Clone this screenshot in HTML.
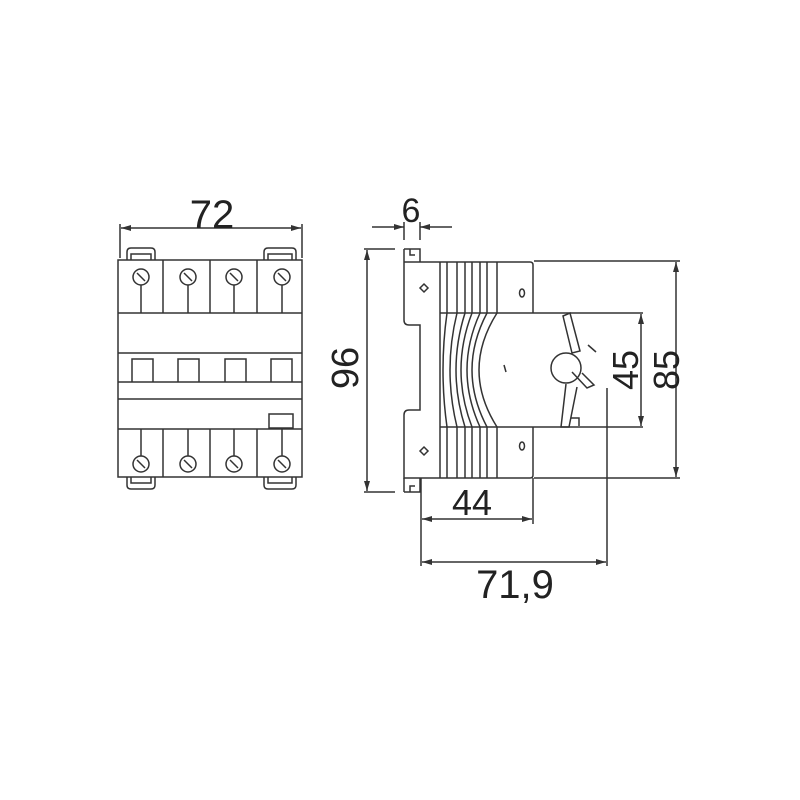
<!DOCTYPE html>
<html><head><meta charset="utf-8"><style>html,body{margin:0;padding:0;background:#fff}svg{display:block}</style></head>
<body>
<svg width="800" height="800" viewBox="0 0 800 800" xmlns="http://www.w3.org/2000/svg" font-family="Liberation Sans, sans-serif">
<defs>
<marker id="a" viewBox="0 0 10 6" refX="10" refY="3" markerWidth="10" markerHeight="6" orient="auto-start-reverse" markerUnits="userSpaceOnUse"><path d="M0,0 L10,3 L0,6 z" fill="#333"/></marker>
</defs>
<g stroke="#333" stroke-width="1.5" fill="none">
<!-- LEFT VIEW -->
<line x1="120" y1="224" x2="120" y2="258"/><line x1="302" y1="224" x2="302" y2="258"/>
<line x1="121" y1="228" x2="301" y2="228" marker-start="url(#a)" marker-end="url(#a)"/>
<rect x="118" y="260" width="184" height="217"/>
<path d="M127,260 v-8 q0,-4 4,-4 h20 q4,0 4,4 v8 M131,260 v-6 h20 v6"/>
<path d="M264,260 v-8 q0,-4 4,-4 h24 q4,0 4,4 v8 M268,260 v-6 h24 v6"/>
<path d="M127,477 v8 q0,4 4,4 h20 q4,0 4,-4 v-8 M131,477 v6 h20 v-6"/>
<path d="M264,477 v8 q0,4 4,4 h24 q4,0 4,-4 v-8 M268,477 v6 h24 v-6"/>
<line x1="118" y1="313" x2="302" y2="313"/><line x1="118" y1="353" x2="302" y2="353"/>
<line x1="118" y1="382" x2="302" y2="382"/><line x1="118" y1="399" x2="302" y2="399"/>
<line x1="118" y1="429" x2="302" y2="429"/>
<line x1="163" y1="260" x2="163" y2="313"/><line x1="210" y1="260" x2="210" y2="313"/><line x1="257" y1="260" x2="257" y2="313"/>
<line x1="163" y1="429" x2="163" y2="477"/><line x1="210" y1="429" x2="210" y2="477"/><line x1="257" y1="429" x2="257" y2="477"/>
<g>
<circle cx="141" cy="277" r="8"/><circle cx="188" cy="277" r="8"/><circle cx="234" cy="277" r="8"/><circle cx="282" cy="277" r="8"/>
<circle cx="141" cy="464" r="8"/><circle cx="188" cy="464" r="8"/><circle cx="234" cy="464" r="8"/><circle cx="282" cy="464" r="8"/>
<path d="M137,273 l8,8 M184,273 l8,8 M230,273 l8,8 M278,273 l8,8 M137,460 l8,8 M184,460 l8,8 M230,460 l8,8 M278,460 l8,8"/>
<path d="M141,285 v28 M188,285 v28 M234,285 v28 M282,285 v28 M141,456 v-27 M188,456 v-27 M234,456 v-27 M282,456 v-27"/>
</g>
<path d="M132,382 v-23 h21 v23 M178,382 v-23 h21 v23 M225,382 v-23 h21 v23 M271,382 v-23 h21 v23"/>
<rect x="269" y="414" width="24" height="14"/>
<!-- RIGHT VIEW -->
<line x1="372" y1="227" x2="404" y2="227" marker-end="url(#a)"/>
<line x1="452" y1="227" x2="420" y2="227" marker-end="url(#a)"/>
<line x1="404" y1="222" x2="404" y2="240"/><line x1="420" y1="222" x2="420" y2="240"/>
<line x1="367" y1="250" x2="367" y2="491" marker-start="url(#a)" marker-end="url(#a)"/>
<line x1="364" y1="249" x2="395" y2="249"/><line x1="364" y1="492" x2="395" y2="492"/>
<path d="M404,249 h16 v13 M404,249 v13 M410,249 v6 h5 M404,492 h16 v-14 M404,492 v-14 M410,492 v-6 h5"/>
<path d="M404,262 h36 M404,262 v58 q0,5 5,5 h11 v85 h-11 q-5,0 -5,5 v63 h36"/>
<path d="M424,284 l4,4 l-4,4 l-4,-4 z M424,447 l4,4 l-4,4 l-4,-4 z"/>
<line x1="440" y1="262" x2="440" y2="478"/>
<line x1="497" y1="262" x2="497" y2="313"/><line x1="497" y1="427" x2="497" y2="478"/>
<path d="M447,262 v51 M457,262 v51 M465,262 v51 M472,262 v51 M480,262 v51 M487,262 v51"/>
<path d="M447,427 v51 M457,427 v51 M465,427 v51 M472,427 v51 M480,427 v51 M487,427 v51"/>
<path d="M447,313 q-8,57 0,114 M457,313 q-14,57 0,114 M465,313 q-18,57 0,114 M472,313 q-22,57 0,114 M480,313 q-26,57 0,114 M487,313 q-30,57 0,114 M497,313 q-36,57 0,114"/>
<path d="M440,262 h90 q3,0 3,3 v48 M533,427 v48 q0,3 -3,3 h-90"/>
<line x1="440" y1="313" x2="643" y2="313"/><line x1="440" y1="427" x2="643" y2="427"/>
<ellipse cx="522" cy="293" rx="2.5" ry="4"/><ellipse cx="522" cy="446" rx="2.5" ry="4"/>
<line x1="504" y1="365" x2="506" y2="372"/>
<circle cx="566" cy="368" r="15"/>
<path d="M563,316 l7,-3 l10,38 l-8,2 z"/>
<path d="M566,384 l-5,43 l8,0 l8,-40"/>
<path d="M571,418 h8 v8"/>
<path d="M572,372 l15,16 l7,-3 l-12,-12"/>
<line x1="588" y1="345" x2="596" y2="352"/>
<line x1="534" y1="261" x2="680" y2="261"/><line x1="534" y1="478" x2="680" y2="478"/>
<line x1="676" y1="262" x2="676" y2="477" marker-start="url(#a)" marker-end="url(#a)"/>
<line x1="641" y1="314" x2="641" y2="426" marker-start="url(#a)" marker-end="url(#a)"/>
<line x1="607" y1="388" x2="607" y2="566"/>
<line x1="421" y1="478" x2="421" y2="566"/><line x1="533" y1="478" x2="533" y2="524"/>
<line x1="422" y1="519" x2="532" y2="519" marker-start="url(#a)" marker-end="url(#a)"/>
<line x1="422" y1="562" x2="606" y2="562" marker-start="url(#a)" marker-end="url(#a)"/>
</g>
<g fill="#222">
<text x="212" y="228" font-size="40" text-anchor="middle">72</text>
<text x="411" y="222" font-size="34" text-anchor="middle">6</text>
<text transform="translate(358,368) rotate(-90)" font-size="38" text-anchor="middle">96</text>
<text transform="translate(638,370) rotate(-90)" font-size="36" text-anchor="middle">45</text>
<text transform="translate(679,370) rotate(-90)" font-size="36" text-anchor="middle">85</text>
<text x="472" y="515" font-size="36" text-anchor="middle">44</text>
<text x="515" y="598" font-size="40" text-anchor="middle">71,9</text>
</g>
</svg>
</body></html>
